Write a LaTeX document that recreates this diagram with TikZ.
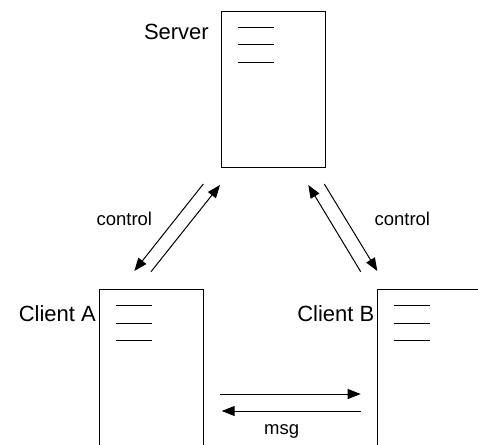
\documentclass[tikz,border=0pt]{standalone}
\usepackage{fontspec}
\setmainfont{Liberation Sans}
\usetikzlibrary{arrows.meta,calc}
\begin{document}
\begin{tikzpicture}[x=1pt,y=-1pt,
  docbox/.style={draw=black,line width=1pt,fill=white,inner sep=0pt,minimum width=104pt},
  bigtxt/.style={font=\fontsize{22}{26}\selectfont,inner sep=0pt,anchor=base east},
  smalltxt/.style={font=\fontsize{18.5}{22}\selectfont,inner sep=0pt,anchor=base},
  conn/.style={line width=1pt,-{Triangle[length=13pt,width=10pt]}},
  docline/.style={line width=1pt}]
\useasboundingbox (0,0) rectangle (478,444);
\clip (0,0) rectangle (478,444);
% boxes
\node[docbox,minimum height=156pt,anchor=north west] (server) at (221,11) {};
\node[docbox,minimum height=200pt,anchor=north west] (clientA) at (99,289) {};
\node[docbox,minimum height=200pt,anchor=north west] (clientB) at (377,289) {};
% document lines
\foreach \b in {server,clientA,clientB}{
  \foreach \dy in {16.5,34,51.5}{
    \draw[docline] ($(\b.north west)+(16.5,\dy)$) -- ++(36.5,0);
  }
}
% labels
\node[bigtxt] (lserver) at (209,40) {Server};
\node[bigtxt] (lclientA) at (96,321.5) {Client A};
\node[bigtxt] (lclientB) at (374.5,321.5) {Client B};
% control arrows (left)
\coordinate (a1s) at (203.3,184);
\coordinate (a1e) at (134.3,271);
\coordinate (a2s) at (151,271.7);
\coordinate (a2e) at (220,185);
\draw[conn] (a1s) -- (a1e);
\draw[conn] (a2s) -- (a2e);
% control arrows (right)
\coordinate (b1s) at (324.3,184);
\coordinate (b1e) at (377.3,271);
\coordinate (b2s) at (360.7,271.7);
\coordinate (b2e) at (308.3,185);
\draw[conn] (b1s) -- (b1e);
\draw[conn] (b2s) -- (b2e);
% msg arrows
\coordinate (m1s) at (220,394);
\coordinate (m1e) at (360.7,394);
\coordinate (m2s) at (360.7,411);
\coordinate (m2e) at (221.7,411);
\draw[conn] (m1s) -- (m1e);
\draw[conn] (m2s) -- (m2e);
% small labels
\node[smalltxt] (lctrlA) at (124.3,225.5) {control};
\node[smalltxt] (lctrlB) at (402.3,225.5) {control};
\node[smalltxt] (lmsg) at (281.7,434.5) {msg};
\end{tikzpicture}
\end{document}
